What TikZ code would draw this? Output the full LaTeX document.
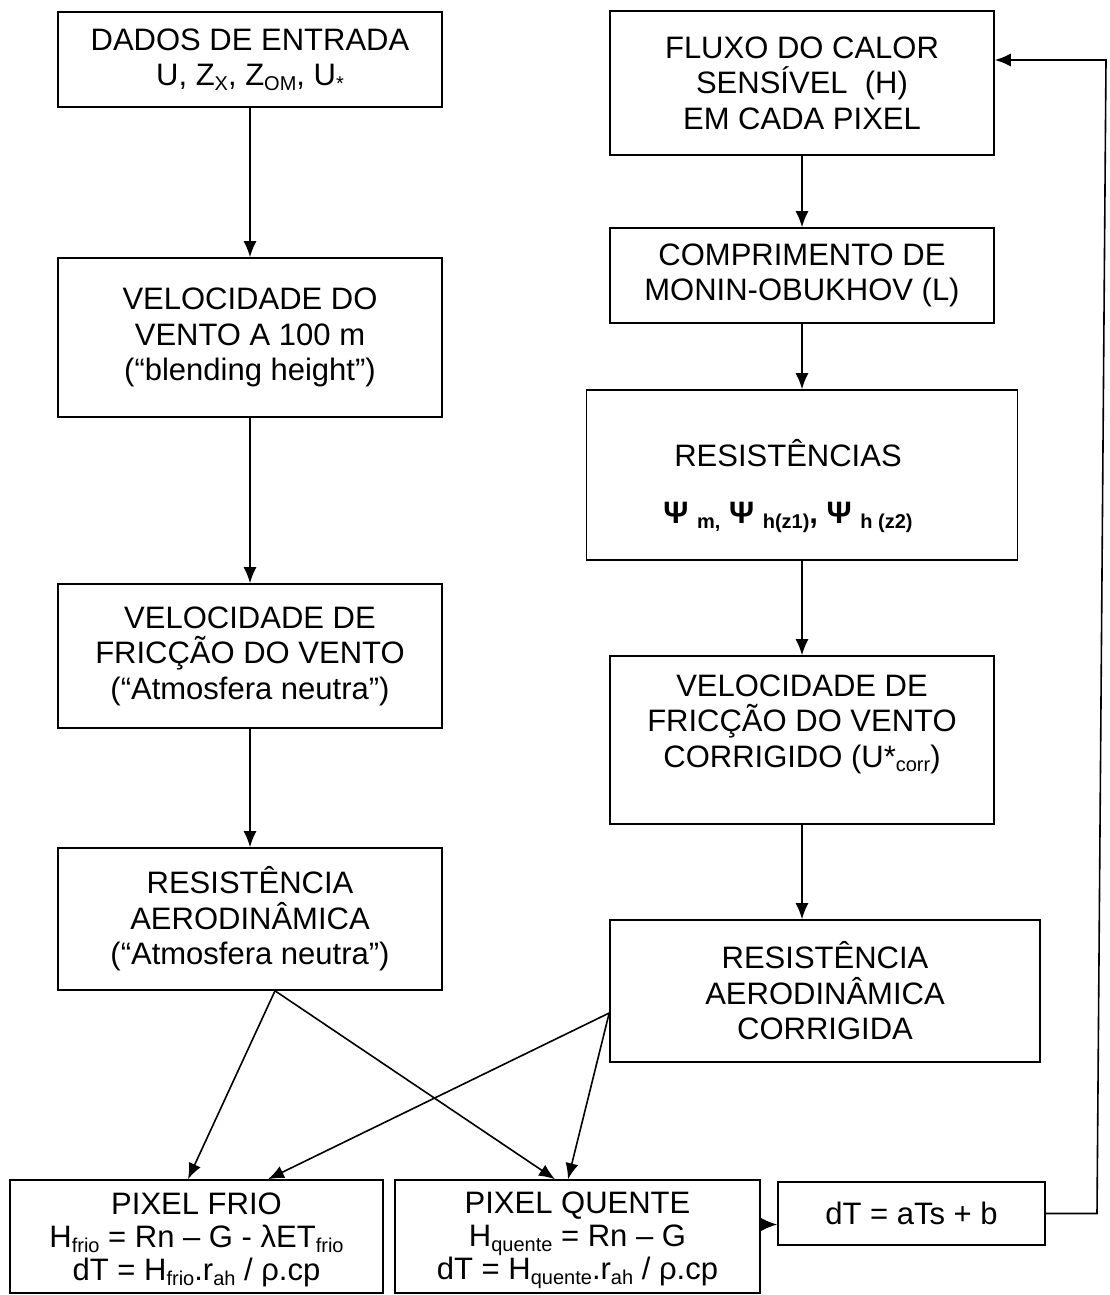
\documentclass[tikz,border=0pt]{standalone}
\usepackage{fontspec}
\setmainfont{Liberation Sans}
\usetikzlibrary{arrows.meta}
\newcommand\sbs[1]{\raisebox{-4.5pt}{\fontsize{20}{20}\selectfont #1}}
\newcommand\sbsb[1]{\raisebox{-5pt}{\fontsize{20}{20}\selectfont\bfseries #1}}
\begin{document}
\begin{tikzpicture}[x=1pt,y=-1pt,
  box/.style={draw, line width=1.6pt, align=center, inner sep=0pt, font=\fontsize{31}{35.5}\selectfont},
  frame/.style={draw, line width=1.6pt, inner sep=0pt},
  plain/.style={align=center, inner sep=0pt, font=\fontsize{31}{35.5}\selectfont},
  tight/.style={align=center, inner sep=0pt, font=\fontsize{31}{33}\selectfont},
  arr/.style={line width=1.6pt, -{Latex[length=16pt,width=13pt]}}]
\useasboundingbox (0,0) rectangle (1109,1295);
% left column
\node[box, minimum width=384, minimum height=95] (A) at (250,59.5) {DADOS DE ENTRADA\\U, Z\sbs{X}, Z\sbs{OM}, U\sbs{*}};
\node[box, minimum width=384, minimum height=159] (B) at (250,337.5) {VELOCIDADE DO\\VENTO A 100 m\\(“blending height”)};
\node[box, minimum width=384, minimum height=144] (C) at (250,656) {VELOCIDADE DE\\FRICÇÃO DO VENTO\\(“Atmosfera neutra”)};
\node[box, minimum width=384, minimum height=142] (D) at (250,919) {RESISTÊNCIA\\AERODINÂMICA\\(“Atmosfera neutra”)};
% right column
\node[box, minimum width=384, minimum height=144] (E) at (802,83) {FLUXO DO CALOR\\SENSÍVEL~ (H)\\EM CADA PIXEL};
\node[box, minimum width=384, minimum height=95] (F) at (802,275.5) {COMPRIMENTO DE\\MONIN-OBUKHOV (L)};
\node[frame, minimum width=431, minimum height=170] (G) at (802,475) {};
\node[plain] (Gt) at (788,486) {RESISTÊNCIAS\\[22pt]{\fontsize{31}{32}\selectfont\bfseries Ψ \sbsb{m,} Ψ \sbsb{h(z1)}, Ψ \sbsb{h (z2)}}};
\node[frame, minimum width=384, minimum height=168] (H) at (802,740) {};
\node[plain] (Ht) at (802,724) {VELOCIDADE DE\\FRICÇÃO DO VENTO\\CORRIGIDO (U*\sbs{corr})};
\node[box, minimum width=430, minimum height=142] (I) at (825,991) {RESISTÊNCIA\\AERODINÂMICA\\CORRIGIDA};
% bottom row
\node[frame, minimum width=373, minimum height=113] (J) at (196.5,1236.5) {};
\node[tight] (Jt) at (196.5,1240) {PIXEL FRIO\\H\sbs{frio} = Rn – G - λET\sbs{frio}\\dT = H\sbs{frio}.r\sbs{ah} / ρ.cp};
\node[frame, minimum width=365, minimum height=113] (K) at (577.5,1236.5) {};
\node[tight] (Kt) at (577.5,1240) {PIXEL QUENTE\\H\sbs{quente} = Rn – G\\dT = H\sbs{quente}.r\sbs{ah} / ρ.cp};
\node[box, minimum width=267, minimum height=63] (L) at (911.5,1213.5) {dT = aTs + b};
% arrows
\draw[arr] (A.south) -- (B.north);
\draw[arr] (B.south) -- (C.north);
\draw[arr] (C.south) -- (D.north);
\draw[arr] (E.south) -- (F.north);
\draw[arr] (F.south) -- (G.north);
\draw[arr] (G.south) -- (H.north);
\draw[arr] (H.south) -- (H.south |- I.north);
\draw[arr] ([xshift=25pt]D.south) -- ([xshift=-8.5pt]J.north);
\draw[arr] ([xshift=25pt]D.south) -- ([xshift=-22.5pt]K.north);
\draw[arr] ([yshift=-22pt]I.west) -- ([xshift=71.5pt]J.north);
\draw[arr] ([yshift=-22pt]I.west) -- ([xshift=-9.5pt]K.north);
\draw[arr] ([yshift=12pt]K.east) -- ([yshift=12pt]K.east -| L.west);
\coordinate (fb1) at (1097,1213.5);
\coordinate (fb2) at (1106,60);
\draw[arr] (L.east) -- (fb1) -- (fb2) -- (fb2 -| E.east);
\end{tikzpicture}
\end{document}
